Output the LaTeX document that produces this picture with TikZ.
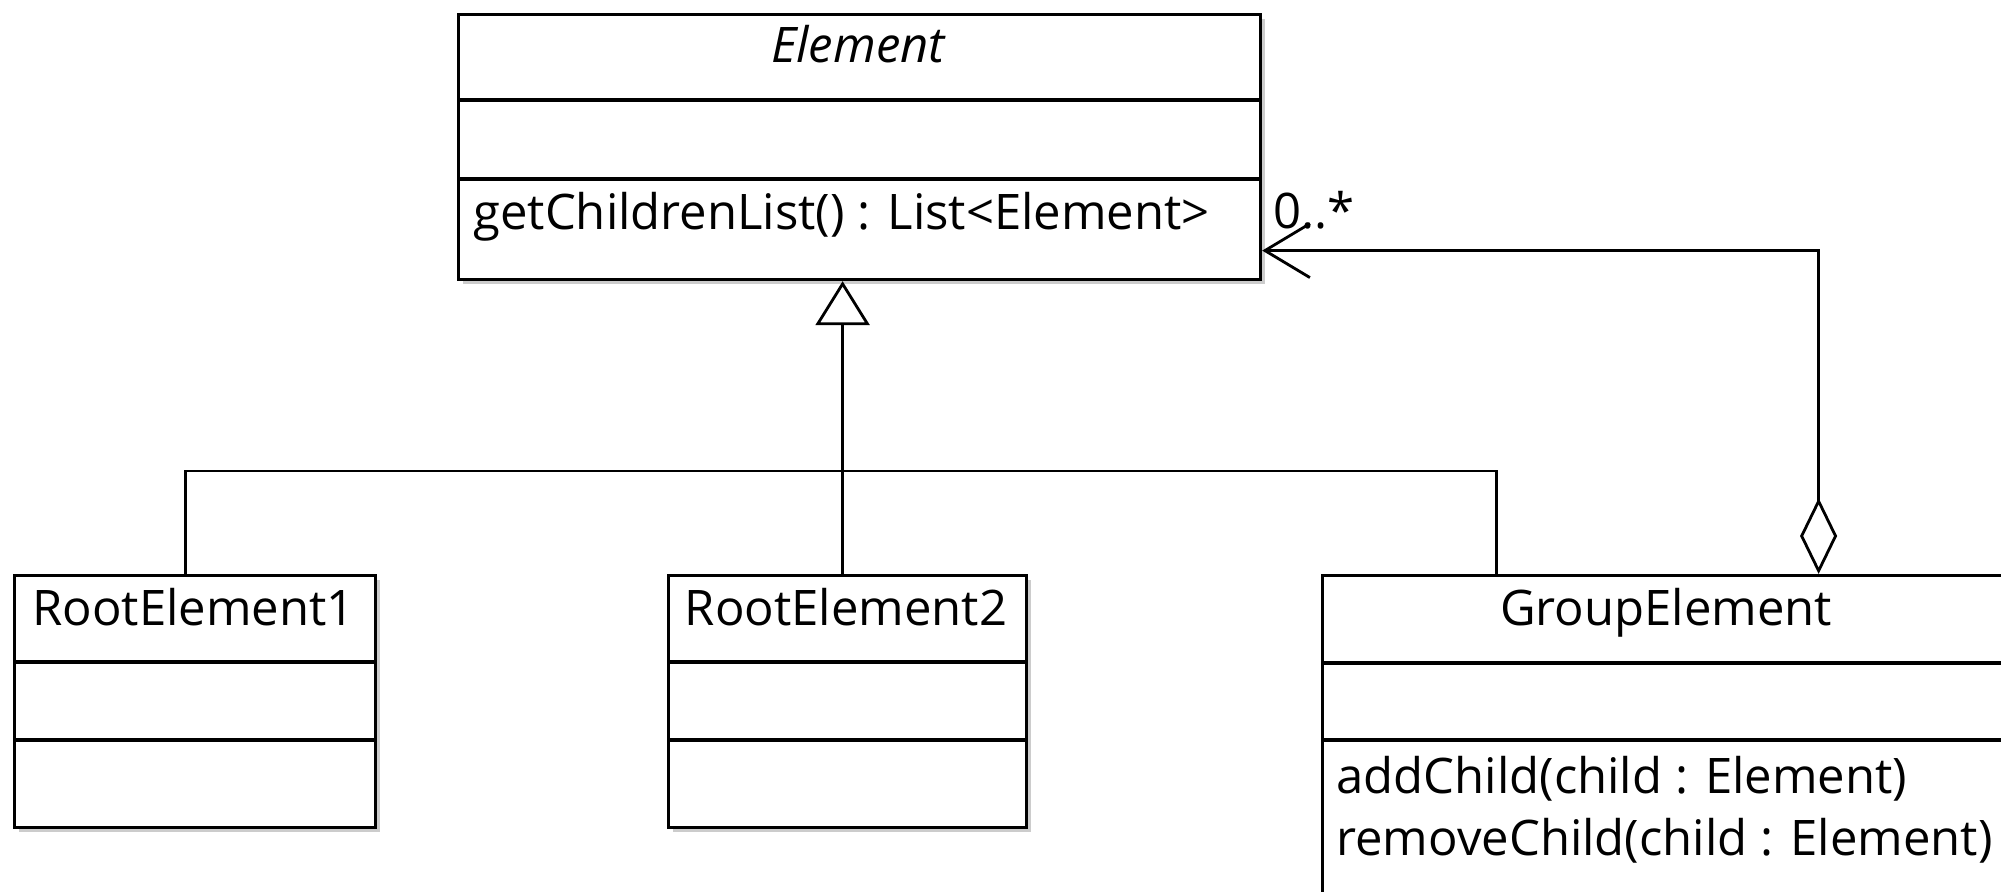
\documentclass[tikz,border=0pt]{standalone}
\usepackage{fontspec}
\setmainfont{Open Sans}
\usetikzlibrary{arrows.meta,shadows}
\begin{document}
\begin{tikzpicture}[x=0.5pt,y=-0.5pt,
  cls/.style={draw, line width=1.6pt, fill=white, rectangle, inner sep=0pt, anchor=north west,
    drop shadow={shadow xshift=2pt, shadow yshift=-2pt, fill=black, opacity=0.2}},
  lbl/.style={inner sep=0pt, font=\fontsize{24.5}{29}\selectfont},
  conn/.style={line width=1.4pt},
  divider/.style={line width=1.6pt}]
\useasboundingbox (0,0) rectangle (2001,892);
\clip (0,0) rectangle (2001,892);
% classes
\node[cls, minimum width=401pt, minimum height=132.5pt] (elem) at (457,13) {};
\node[cls, minimum width=180.5pt, minimum height=126pt] (r1) at (13,574) {};
\node[cls, minimum width=179pt, minimum height=126pt] (r2) at (667,574) {};
\node[cls, minimum width=345pt, minimum height=200pt] (grp) at (1321,574) {};
% dividers
\draw[divider] (elem.west |- 0,100) -- (elem.east |- 0,100);
\draw[divider] (elem.west |- 0,179) -- (elem.east |- 0,179);
\draw[divider] (r1.west |- 0,662) -- (r1.east |- 0,662);
\draw[divider] (r1.west |- 0,740) -- (r1.east |- 0,740);
\draw[divider] (r2.west |- 0,662) -- (r2.east |- 0,662);
\draw[divider] (r2.west |- 0,740) -- (r2.east |- 0,740);
\draw[divider] (grp.west |- 0,663) -- (grp.east |- 0,663);
\draw[divider] (grp.west |- 0,740) -- (grp.east |- 0,740);
% texts
\node[lbl, anchor=base] (t-elem) at (858,63) {\itshape Element};
\node[lbl, anchor=base west] (t-get) at (473,230) {getChildrenList() : List<Element>};
\node[lbl, anchor=base] (t-r1) at (193.5,625) {RootElement1};
\node[lbl, anchor=base] (t-r2) at (846,625) {RootElement2};
\node[lbl, anchor=base] (t-grp) at (1666,625) {GroupElement};
\node[lbl, anchor=base west] (t-add) at (1336,793) {addChild(child : Element)};
\node[lbl, anchor=base west] (t-rem) at (1336,855) {removeChild(child : Element)};
\node[lbl, anchor=base west] (t-mult) at (1273,229) {0..*};
% generalization
\coordinate (j) at (841,471);
\draw[conn] ([xshift=-4.75pt]r1.north) |- (j);
\draw[conn] ([xshift=-85.5pt]grp.north) |- (j);
\draw[conn, -{Triangle[open, length=22pt, width=27pt]}] ([xshift=-2.5pt]r2.north) -- ([xshift=-8.5pt]elem.south);
% aggregation
\draw[conn, {Diamond[open, length=38pt, width=18.5pt]}-{Straight Barb[length=22.5pt, width=27pt]}]
  ([xshift=75.5pt]grp.north) |- ([yshift=-51.75pt]elem.east);
\end{tikzpicture}
\end{document}
